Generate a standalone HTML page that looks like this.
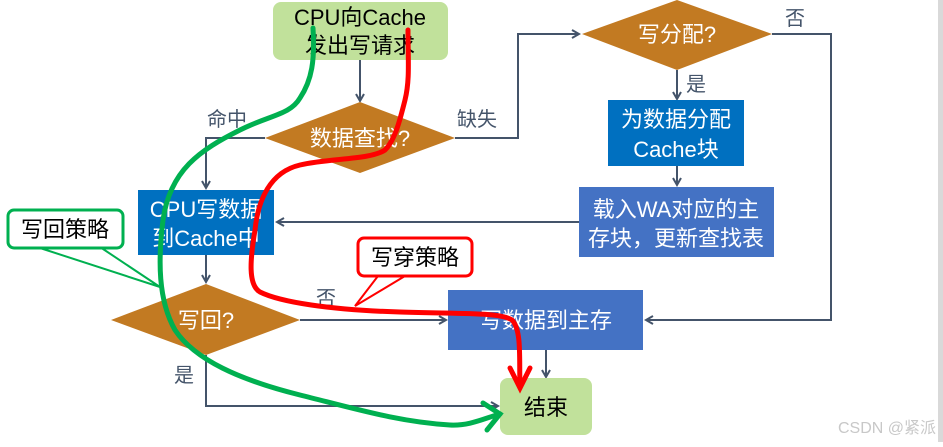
<!DOCTYPE html>
<html><head><meta charset="utf-8"><style>
html,body{margin:0;padding:0;background:#fff;}
svg text{font-family:"Liberation Sans","Noto Sans CJK SC",sans-serif;}
</style></head><body>
<svg width="943" height="442" viewBox="0 0 943 442" xmlns="http://www.w3.org/2000/svg">
<defs>
<marker id="a" markerWidth="10" markerHeight="10" refX="8" refY="5" orient="auto" markerUnits="userSpaceOnUse">
<path d="M1,1 L8,5 L1,9" fill="none" stroke="#44546a" stroke-width="2"/></marker>
</defs>
<rect width="943" height="442" fill="#fff"/>
<rect x="938" y="0" width="5" height="442" fill="#d9d9d9"/>
<g stroke="#44546a" stroke-width="2" fill="none">
<path d="M360,60 V101" marker-end="url(#a)"/>
<path d="M265,138 H206 V188" marker-end="url(#a)"/>
<path d="M455,138 H518 V34 H579" marker-end="url(#a)"/>
<path d="M772,34 H831 V320 H646" marker-end="url(#a)"/>
<path d="M677,70 V99" marker-end="url(#a)"/>
<path d="M677,166 V185" marker-end="url(#a)"/>
<path d="M579,222 H277" marker-end="url(#a)"/>
<path d="M206,255 V282" marker-end="url(#a)"/>
<path d="M300,320 H446" marker-end="url(#a)"/>
<path d="M546,350 V377" marker-end="url(#a)"/>
<path d="M206,355 V406 H498" marker-end="url(#a)"/>
</g>
<rect x="273" y="2" width="175" height="58" rx="8" fill="#c1e19b"/>
<text x="360" y="25" font-size="22" text-anchor="middle">CPU向Cache</text>
<text x="360" y="53" font-size="22" text-anchor="middle">发出写请求</text>
<polygon points="265,138 360,102 455,138 360,173" fill="#c27a22"/>
<text x="360" y="146" font-size="22" fill="#fff" text-anchor="middle">数据查找?</text>
<polygon points="582,34 677,0 772,34 677,70" fill="#c27a22"/>
<text x="677" y="42" font-size="22" fill="#fff" text-anchor="middle">写分配?</text>
<rect x="608" y="100" width="136" height="66" fill="#0070c0"/>
<text x="676" y="127" font-size="22" fill="#fff" text-anchor="middle">为数据分配</text>
<text x="676" y="157" font-size="22" fill="#fff" text-anchor="middle">Cache块</text>
<rect x="579" y="187" width="195" height="70" fill="#4472c4"/>
<text x="676" y="217" font-size="22" fill="#fff" text-anchor="middle">载入WA对应的主</text>
<text x="676" y="246" font-size="22" fill="#fff" text-anchor="middle">存块，更新查找表</text>
<rect x="138" y="190" width="136" height="65" fill="#0070c0"/>
<text x="206" y="217" font-size="22" fill="#fff" text-anchor="middle">CPU写数据</text>
<text x="206" y="246" font-size="22" fill="#fff" text-anchor="middle">到Cache中</text>
<polygon points="111,320 206,284 300,320 206,355" fill="#c27a22"/>
<text x="206" y="328" font-size="22" fill="#fff" text-anchor="middle">写回?</text>
<rect x="448" y="290" width="195" height="60" fill="#4472c4"/>
<text x="546" y="328" font-size="22" fill="#fff" text-anchor="middle">写数据到主存</text>
<rect x="500" y="378" width="92" height="57" rx="8" fill="#c1e19b"/>
<text x="546" y="415" font-size="22" text-anchor="middle">结束</text>
<g font-size="20" fill="#44546a">
<text x="207" y="126">命中</text>
<text x="457" y="126">缺失</text>
<text x="785" y="25">否</text>
<text x="686" y="91">是</text>
<text x="316" y="305">否</text>
<text x="174" y="382">是</text>
</g>
<path d="M40,248 L160,287 L100,247" fill="#fff" stroke="#00b050" stroke-width="2"/>
<rect x="8" y="210" width="115" height="38" rx="6" fill="#fff" stroke="#00b050" stroke-width="3"/>
<text x="65" y="237" font-size="22" text-anchor="middle">写回策略</text>
<path d="M378,276 L355,306 L405,276" fill="#fff" stroke="#f00" stroke-width="2"/>
<rect x="358" y="238" width="114" height="38" rx="6" fill="#fff" stroke="#f00" stroke-width="3"/>
<text x="415" y="265" font-size="22" text-anchor="middle">写穿策略</text>
<path d="M313,28 C315,60 312,80 300,98 C290,115 270,115 240,130 C200,150 170,170 163,220 C158,260 158,300 175,330 C195,360 240,380 300,395 C360,410 400,422 450,425 C470,426 485,418 500,414" fill="none" stroke="#00b050" stroke-width="5" stroke-linecap="round"/>
<path d="M483,403 L500,414 L487,430" fill="none" stroke="#00b050" stroke-width="5" stroke-linecap="round"/>
<path d="M408,30 C408,60 410,80 405,100 C400,120 395,140 385,150 C370,160 330,158 300,165 C270,172 258,200 255,230 C250,260 248,285 260,292 C280,302 330,310 400,312 C460,314 500,312 512,320 C522,330 519,360 520,385" fill="none" stroke="#f00" stroke-width="5" stroke-linecap="round"/>
<path d="M510,368 L520,388 L530,368" fill="none" stroke="#f00" stroke-width="5" stroke-linecap="round"/>
<text x="838" y="433" font-size="16" fill="#c8c8c8">CSDN @紧派</text>
</svg>
</body></html>
